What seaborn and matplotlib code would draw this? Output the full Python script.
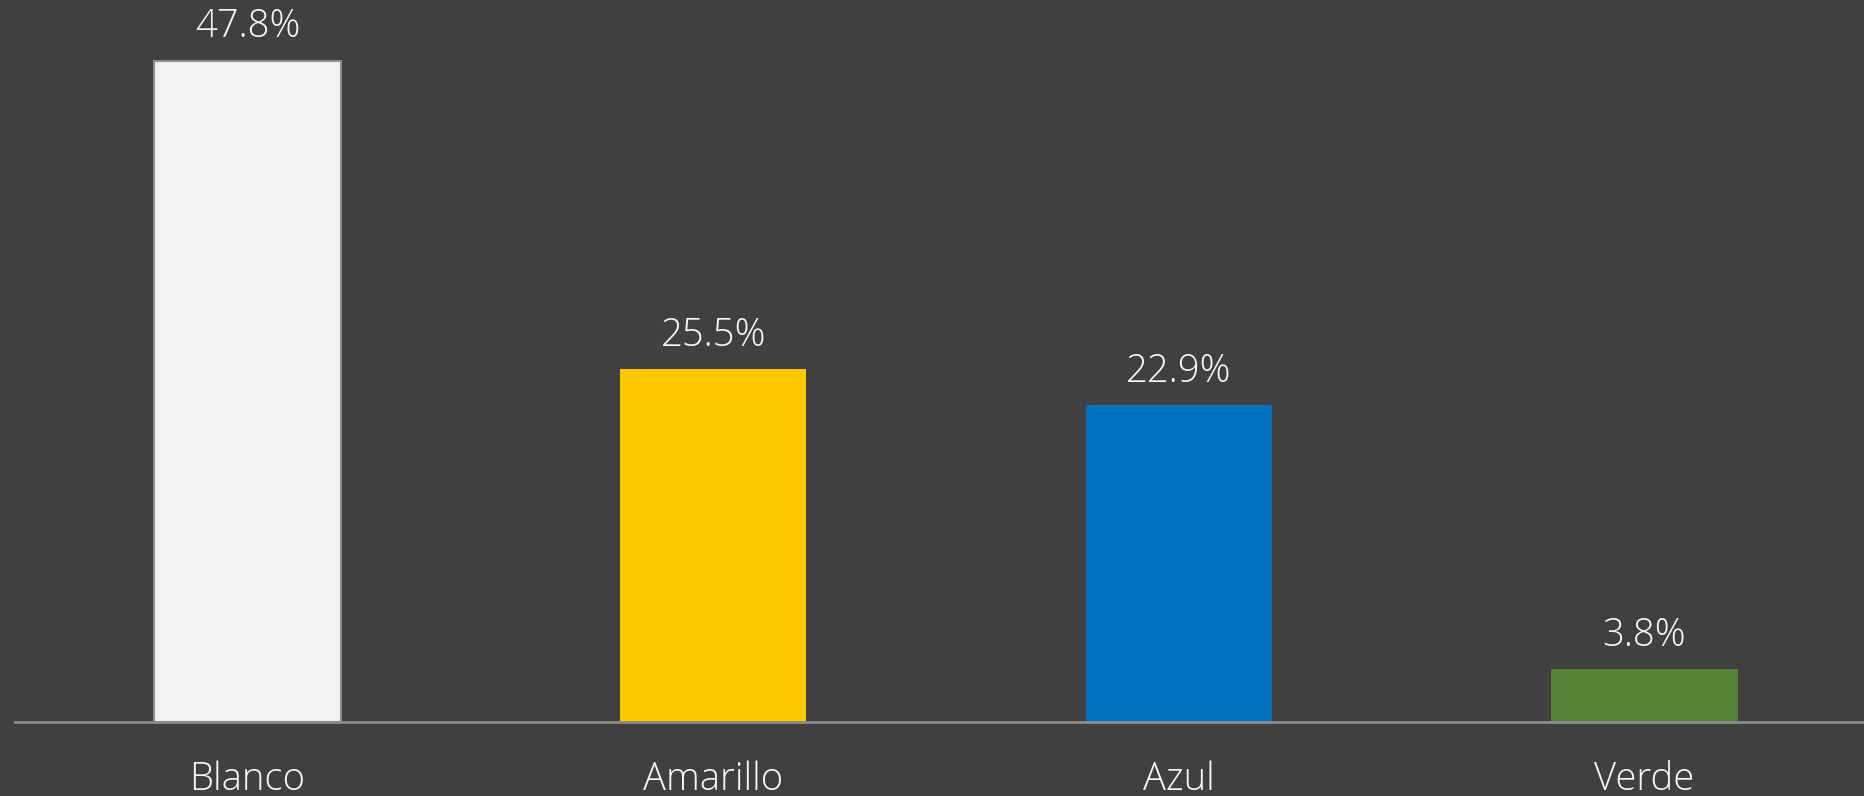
import matplotlib.pyplot as plt
import pandas as pd
import seaborn as sns

categorias = ["Blanco", "Amarillo", "Azul", "Verde"]
porcentajes = [47.8, 25.5, 22.9, 3.8]
colores = ["#F2F2F2", "#FCC800", "#0070C0", "#538135"]

df = pd.DataFrame({"color": categorias, "pct": porcentajes})

sns.set_style("dark")
plt.rcParams["font.family"] = ["Open Sans", "DejaVu Sans"]

fondo = "#404040"
fig = plt.figure(figsize=(18.65, 7.96), dpi=100, facecolor=fondo)
# axes span: baseline at y=722px, categories spaced ~466px starting at x~15px
ax = fig.add_axes([14.7 / 1865, 74 / 796, 1862.7 / 1865, 722 / 796])
ax.set_facecolor(fondo)

sns.barplot(data=df, x="color", y="pct", hue="color", palette=colores,
            width=0.40, legend=False, ax=ax, saturation=1, linewidth=0)

# borde gris solo para la barra blanca
ax.patches[0].set_edgecolor("#8C8C8C")
ax.patches[0].set_linewidth(1.5)

ax.set_ylim(0, 722 / 13.83)
ax.set_xlim(-0.5, 3.5)

for i, v in enumerate(porcentajes):
    ax.annotate(f"{v:.1f}%", xy=(i, v), xytext=(0, 17), textcoords="offset points",
                ha="center", va="baseline", fontsize=27.5, fontweight="light", color="#F8F8F8")

ax.set_xlabel("")
ax.set_ylabel("")
ax.set_yticks([])
ax.tick_params(axis="x", length=0, pad=49)
ax.set_xticks(range(len(categorias)))
ax.set_xticklabels(categorias, fontsize=27.5, fontweight="light", color="#F8F8F8")
plt.setp(ax.get_xticklabels(), va="baseline")

for s in ["top", "right", "left"]:
    ax.spines[s].set_visible(False)
ax.spines["bottom"].set_visible(True)
ax.spines["bottom"].set_color("#8C8C8C")
ax.spines["bottom"].set_linewidth(2)
ax.grid(False)

fig.savefig("out.png", dpi=100, facecolor=fondo)
